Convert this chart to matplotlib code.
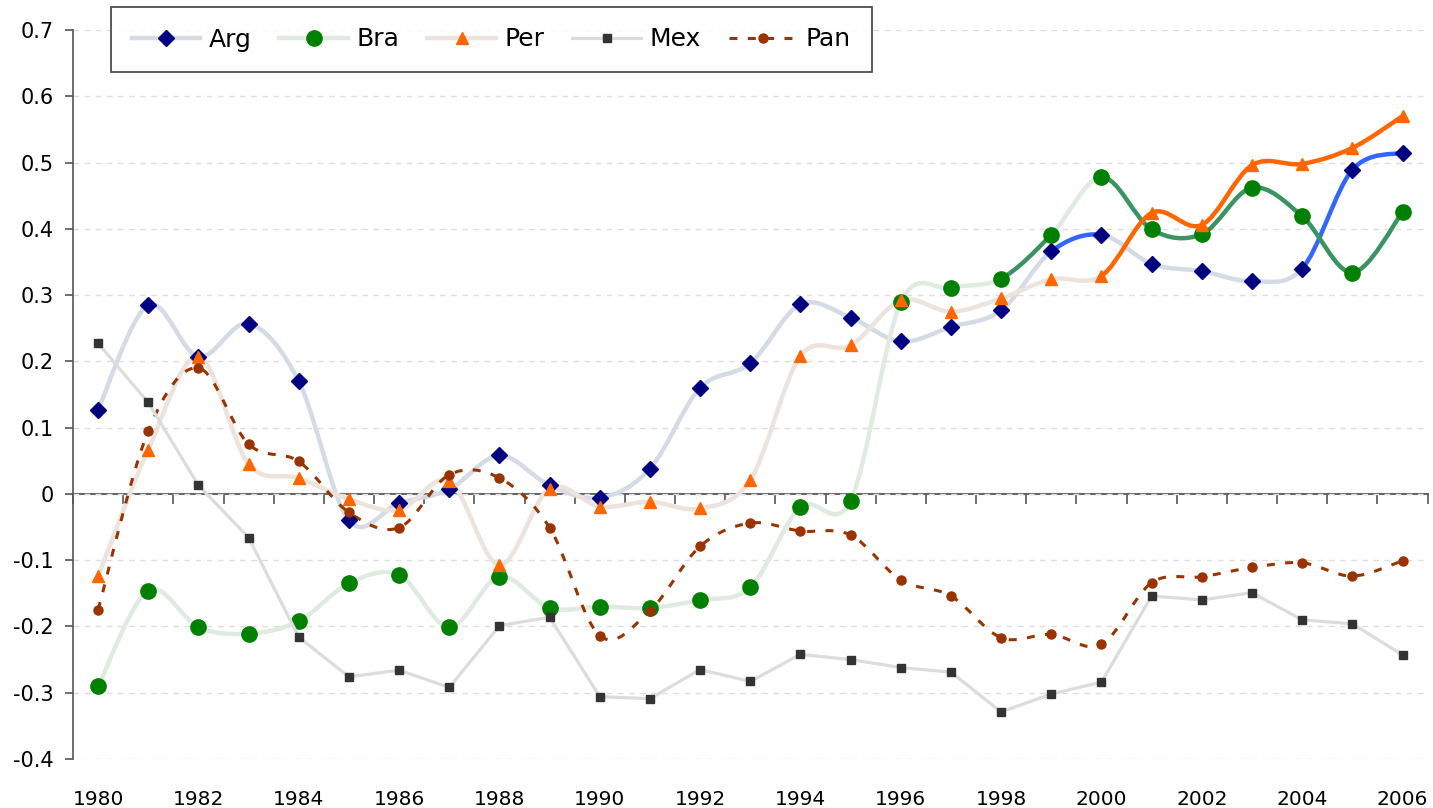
import numpy as np
import matplotlib
matplotlib.use('Agg')
import matplotlib.pyplot as plt
from matplotlib.path import Path
from matplotlib.patches import PathPatch
from matplotlib.lines import Line2D

years = list(range(1980, 2007))

arg = [0.127, 0.285, 0.207, 0.257, 0.170, -0.040, -0.014, 0.007, 0.058, 0.013,
       -0.006, 0.038, 0.160, 0.197, 0.286, 0.266, 0.230, 0.252, 0.277, 0.366,
       0.391, 0.347, 0.336, 0.321, 0.340, 0.489, 0.515]
bra = [-0.290, -0.146, -0.201, -0.211, -0.192, -0.135, -0.122, -0.201, -0.125, -0.172,
       -0.170, -0.172, -0.160, -0.141, -0.020, -0.010, 0.289, 0.311, 0.325, 0.391,
       0.478, 0.399, 0.392, 0.462, 0.419, 0.334, 0.425]
per = [-0.124, 0.067, 0.207, 0.045, 0.024, -0.008, -0.024, 0.019, -0.107, 0.008,
       -0.019, -0.012, -0.022, 0.021, 0.208, 0.224, 0.292, 0.275, 0.295, 0.324,
       0.329, 0.424, 0.406, 0.496, 0.498, 0.522, 0.570]
mex = [0.227, 0.138, 0.013, -0.066, -0.216, -0.276, -0.266, -0.292, -0.199, -0.186,
       -0.306, -0.309, -0.265, -0.283, -0.242, -0.250, -0.262, -0.269, -0.329, -0.302,
       -0.284, -0.154, -0.160, -0.149, -0.190, -0.196, -0.243]
pan = [-0.175, 0.095, 0.190, 0.075, 0.049, -0.028, -0.051, 0.029, 0.024, -0.051,
       -0.214, -0.176, -0.079, -0.044, -0.056, -0.062, -0.130, -0.154, -0.217, -0.212,
       -0.227, -0.134, -0.125, -0.111, -0.104, -0.124, -0.101]

# segments (by start year) that are drawn in the strong colour
arg_hi = [1999, 2004, 2005]
bra_hi = [1998, 2000, 2001, 2002, 2003, 2004, 2005]
per_hi = [2000, 2001, 2002, 2003, 2004, 2005]

ytick_vals = [-0.4, -0.3, -0.2, -0.1, 0, 0.1, 0.2, 0.3, 0.4, 0.5, 0.6, 0.7]
ytick_labels = ['-0.4', '-0.3', '-0.2', '-0.1', '0', '0.1', '0.2', '0.3', '0.4', '0.5', '0.6', '0.7']
xtick_years = years[::2]


def smooth_path(x, y, i0, i1):
    # excel-like smoothed line: cubic bezier pieces between the points
    n = len(x)
    verts = [(x[i0], y[i0])]
    codes = [Path.MOVETO]
    for i in range(i0, i1):
        a = max(i - 1, 0)
        d = min(i + 2, n - 1)
        c1 = (x[i] + (x[i + 1] - x[a]) / 6.0, y[i] + (y[i + 1] - y[a]) / 6.0)
        c2 = (x[i + 1] - (x[d] - x[i]) / 6.0, y[i + 1] - (y[d] - y[i]) / 6.0)
        verts += [c1, c2, (x[i + 1], y[i + 1])]
        codes += [Path.CURVE4] * 3
    return Path(verts, codes)


def draw_smooth(ax, x, y, hi, light, strong, lw):
    # group consecutive segments of the same colour into one path
    n = len(x)
    start = 0
    for i in range(1, n):
        cur = x[start] in hi
        if i == n - 1 or (x[i] in hi) != cur:
            col = strong if cur else light
            p = PathPatch(smooth_path(x, y, start, i), fill=False, edgecolor=col,
                          lw=lw, capstyle='round', joinstyle='round', zorder=2)
            ax.add_patch(p)
            start = i


fig = plt.figure(figsize=(14.33, 8.08), dpi=100)
ymin, ymax = -0.4, 0.7
ax = fig.add_axes([73 / 1433, 1 - 759 / 808, (1427.6 - 73) / 1433, (759 - 30) / 808])
ax.set_xlim(1979.5, 2006.5)
ax.set_ylim(ymin, ymax)

light_arg, blue = '#d4dbe5', '#3366ff'
light_bra, dgreen = '#dfeae1', '#3a9462'
light_per, orange = '#ece3dd', '#ff6600'

draw_smooth(ax, years, arg, arg_hi, light_arg, blue, 3.2)
ax.plot(years, arg, ls='none', marker='D', ms=8.2, mfc='#000080', mec='#000080', zorder=3)

draw_smooth(ax, years, bra, bra_hi, light_bra, dgreen, 3.2)
ax.plot(years, bra, ls='none', marker='o', ms=11, mfc='#008000', mec='#008000', zorder=3)

draw_smooth(ax, years, per, per_hi, light_per, orange, 3.2)
ax.plot(years, per, ls='none', marker='^', ms=8.5, mfc='#ff6600', mec='#ff6600', zorder=3)

ax.plot(years, mex, color='#dcdcdc', lw=2.3, marker='s', ms=5.2,
        mfc='#333333', mec='#333333', zorder=3)

pan_path = PathPatch(smooth_path(years, pan, 0, len(years) - 1), fill=False,
                     edgecolor='#993300', lw=2.2, linestyle=(0, (2.6, 3.4)), zorder=2)
ax.add_patch(pan_path)
ax.plot(years, pan, ls='none', marker='o', ms=6.5, mfc='#993300', mec='#993300', zorder=3)

# axes styling
for s in ['top', 'right', 'bottom']:
    ax.spines[s].set_visible(False)
ax.spines['left'].set_color('#555555')
ax.spines['left'].set_linewidth(1.2)
ax.set_yticks(ytick_vals)
ax.set_yticklabels(ytick_labels)
ax.tick_params(axis='y', direction='out', length=6, width=1.2, color='#555555',
               labelsize=15, pad=8)
ax.set_xticks(xtick_years)
ax.set_xticklabels([str(y) for y in xtick_years])
ax.tick_params(axis='x', length=0, labelsize=14.5, pad=22)
ax.grid(axis='y', color='#dddddd', linestyle=(0, (4, 4)), lw=1.0, zorder=0)
ax.set_axisbelow(True)

# horizontal axis line at zero with category boundary ticks
sec = ax.secondary_xaxis((0 - ymin) / (ymax - ymin))
sec.set_xticks(np.arange(1979.5, 2007, 1.0))
sec.set_xticklabels([])
sec.spines['bottom'].set_color('#666666')
sec.spines['bottom'].set_linewidth(1.5)
sec.tick_params(axis='x', direction='out', length=7, width=1.2, color='#555555')

handles = [
    Line2D([], [], color=light_arg, lw=3.2, marker='D', ms=8.2, mfc='#000080', mec='#000080'),
    Line2D([], [], color=light_bra, lw=3.2, marker='o', ms=11, mfc='#008000', mec='#008000'),
    Line2D([], [], color=light_per, lw=3.2, marker='^', ms=8.5, mfc='#ff6600', mec='#ff6600'),
    Line2D([], [], color='#dcdcdc', lw=2.3, marker='s', ms=5.2, mfc='#333333', mec='#333333'),
    Line2D([], [], color='#993300', lw=2.2, ls=(0, (2.6, 3.4)), marker='o', ms=6.5,
           mfc='#993300', mec='#993300'),
]
leg = fig.legend(handles, ['Arg', 'Bra', 'Per', 'Mex', 'Pan'], loc='upper left',
                 bbox_to_anchor=(111 / 1433, 1 - 7 / 808), ncol=5, fontsize=18,
                 frameon=True, fancybox=False, edgecolor='#222222', handlelength=2.75,
                 handletextpad=0.35, columnspacing=1.1, borderpad=0.82, borderaxespad=0)
leg.get_frame().set_linewidth(1.3)

fig.savefig('out.png', dpi=100)
